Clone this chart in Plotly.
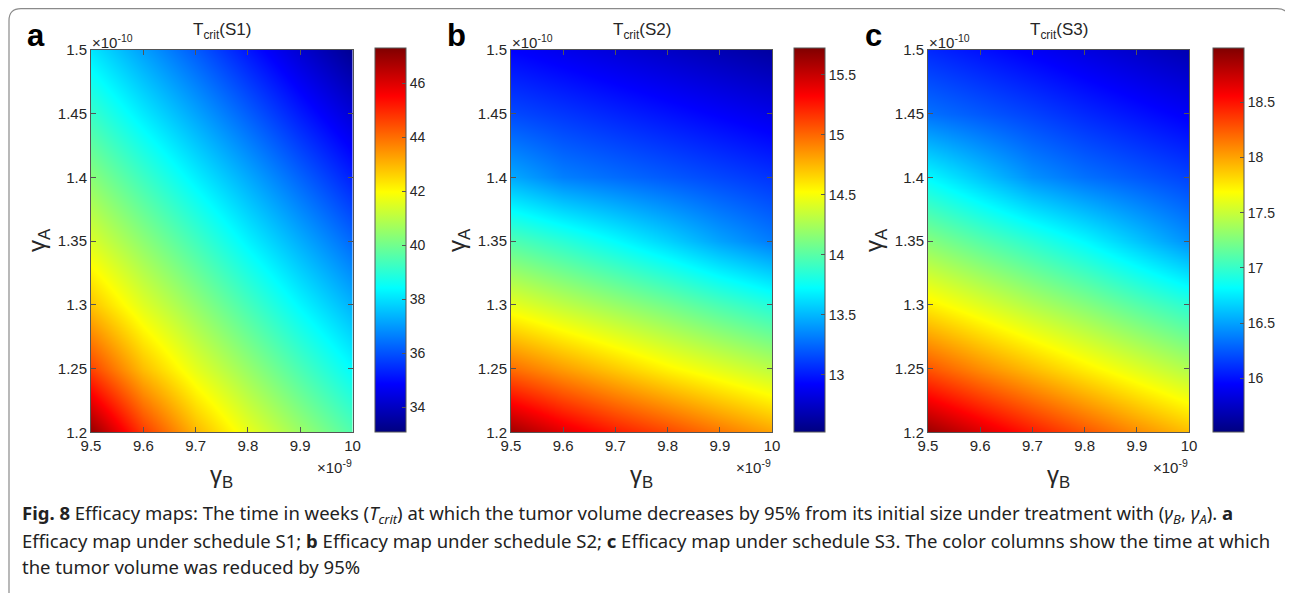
import plotly.graph_objects as go

W, H = 1293, 593
OFF = 8  # the page body margin shifts the figure by 8 px

# ---------------- data ----------------
gamma_B = [9.5, 9.6, 9.7, 9.8, 9.9, 10.0]          # x 10^-9
gamma_A = [1.2, 1.25, 1.3, 1.35, 1.4, 1.45, 1.5]   # x 10^-10

x_tick_labels = ["9.5", "9.6", "9.7", "9.8", "9.9", "10"]
y_tick_labels = ["1.2", "1.25", "1.3", "1.35", "1.4", "1.45", "1.5"]

# T_crit (weeks), rows follow gamma_A, columns follow gamma_B
tcrit_S1 = [
    [47.00, 44.73, 42.97, 41.66, 40.57, 39.51],
    [44.60, 42.88, 41.59, 40.51, 39.44, 38.38],
    [42.79, 41.52, 40.44, 39.37, 38.32, 37.33],
    [41.45, 40.37, 39.31, 38.25, 37.27, 36.29],
    [40.30, 39.24, 38.19, 37.21, 36.23, 35.26],
    [39.17, 38.13, 37.14, 36.17, 35.20, 34.27],
    [38.07, 37.08, 36.11, 35.14, 34.21, 33.30],
]
tcrit_S2 = [
    [15.62, 15.41, 15.24, 15.10, 14.95, 14.81],
    [14.98, 14.83, 14.69, 14.55, 14.43, 14.31],
    [14.45, 14.32, 14.20, 14.08, 13.95, 13.83],
    [13.97, 13.85, 13.72, 13.58, 13.43, 13.31],
    [13.45, 13.32, 13.26, 13.20, 13.14, 13.08],
    [13.15, 13.09, 13.03, 12.97, 12.91, 12.85],
    [12.92, 12.86, 12.80, 12.74, 12.68, 12.62],
]
tcrit_S3 = [
    [18.90, 18.68, 18.47, 18.27, 18.08, 17.91],
    [18.27, 18.08, 17.91, 17.74, 17.58, 17.42],
    [17.74, 17.58, 17.42, 17.27, 17.11, 16.96],
    [17.27, 17.11, 16.96, 16.80, 16.62, 16.44],
    [16.80, 16.62, 16.44, 16.33, 16.25, 16.17],
    [16.33, 16.25, 16.17, 16.08, 16.00, 15.92],
    [16.08, 16.00, 15.92, 15.84, 15.76, 15.68],
]

cbar_ranges = [(33.07, 47.3), (12.52, 15.72), (15.51, 18.99)]
cbar_ticks = [
    [34, 36, 38, 40, 42, 44, 46],
    [13, 13.5, 14, 14.5, 15, 15.5],
    [16, 16.5, 17, 17.5, 18, 18.5],
]
panel_titles = ["T<sub>crit</sub>(S1)", "T<sub>crit</sub>(S2)", "T<sub>crit</sub>(S3)"]
panel_letters = ["a", "b", "c"]

# ---------------- layout helpers (page pixel -> paper fraction) ----------------
def fx(px):
    return (px - OFF) / W

def fy(py):
    return 1 - (py - OFF) / H

jet = [
    [0.0, "rgb(0,0,128)"],
    [0.125, "rgb(0,0,255)"],
    [0.375, "rgb(0,255,255)"],
    [0.625, "rgb(255,255,0)"],
    [0.875, "rgb(255,0,0)"],
    [1.0, "rgb(128,0,0)"],
]

plot_x = [(91, 352.5), (511, 772), (928, 1189)]
plot_y = (50, 432.3)
cbar_x = [375, 794, 1213]

AX_COLOR = "#555555"
TXT = "#262626"
FONT = "Liberation Sans"

fig = go.Figure()
datasets = [tcrit_S1, tcrit_S2, tcrit_S3]

for i in range(3):
    sfx = "" if i == 0 else str(i + 1)
    zmin, zmax = cbar_ranges[i]
    fig.add_trace(go.Heatmap(
        x=gamma_B, y=gamma_A, z=datasets[i],
        xaxis="x" + sfx, yaxis="y" + sfx,
        colorscale=jet, zmin=zmin, zmax=zmax, zsmooth="best",
        colorbar=dict(
            x=fx(cbar_x[i]), xanchor="left", xpad=0, ypad=0,
            y=fy(plot_y[1]), yanchor="bottom",
            len=(plot_y[1] - 48) / H, lenmode="fraction",
            thickness=31, thicknessmode="pixels",
            outlinewidth=1, outlinecolor=AX_COLOR,
            ticks="inside", ticklen=4, tickcolor=AX_COLOR,
            tickvals=cbar_ticks[i],
            tickfont=dict(family=FONT, size=14, color=TXT),
        ),
        hoverinfo="skip",
    ))
    xa = dict(
        domain=[fx(plot_x[i][0]), fx(plot_x[i][1])],
        range=[9.5, 10.0], anchor="y" + sfx,
        tickvals=gamma_B, ticktext=x_tick_labels,
        ticks="inside", ticklen=5, tickcolor=AX_COLOR,
        showline=True, linecolor=AX_COLOR, linewidth=1, mirror="ticks",
        showgrid=False, zeroline=False,
        tickfont=dict(family=FONT, size=15, color=TXT),
    )
    ya = dict(
        domain=[fy(plot_y[1]), fy(plot_y[0])],
        range=[1.2, 1.5], anchor="x" + sfx,
        tickvals=gamma_A, ticktext=y_tick_labels,
        ticks="inside", ticklen=5, tickcolor=AX_COLOR,
        showline=True, linecolor=AX_COLOR, linewidth=1, mirror="ticks",
        showgrid=False, zeroline=False,
        tickfont=dict(family=FONT, size=15, color=TXT),
    )
    fig.layout["xaxis" + sfx] = xa
    fig.layout["yaxis" + sfx] = ya

annotations = []

def ann(px, py, text, size, color=TXT, xanchor="center", family=FONT, angle=0):
    annotations.append(dict(
        x=fx(px), y=fy(py), xref="paper", yref="paper", text=text, showarrow=False,
        xanchor=xanchor, yanchor="middle", align="left", textangle=angle,
        font=dict(family=family, size=size, color=color)))

for i in range(3):
    x0, x1 = plot_x[i]
    cx = (x0 + x1) / 2
    ann(cx, 31, panel_titles[i], 17)
    ann(x0 - 55, 36, "<b>" + panel_letters[i] + "</b>", 31, color="black")
    ann(x0 - 1, 41, "\u00d710<sup>-10</sup>", 15, xanchor="left")
    ann(x1 + 1, 466, "\u00d710<sup>-9</sup>", 15, xanchor="right")
    ann(cx, 476, "\u03b3<sub>B</sub>", 24)
    ann(x0 - 53, 240, "\u03b3<sub>A</sub>", 24, angle=-90)

caption_lines = [
    "<b>Fig. 8</b> Efficacy maps: The time in weeks (<i>T<sub>crit</sub></i>) at which the tumor volume "
    "decreases by 95% from its initial size under treatment with (<i>\u03b3<sub>B</sub></i>, "
    "<i>\u03b3<sub>A</sub></i>). <b>a</b>",
    "Efficacy map under schedule S1; <b>b</b> Efficacy map under schedule S2; <b>c</b> Efficacy map "
    "under schedule S3. The color columns show the time at which",
    "the tumor volume was reduced by 95%",
]
for k, line in enumerate(caption_lines):
    ann(20, 514 + 26 * k, line, 18.5, color="#222222", xanchor="left", family="Noto Sans")

# rounded border (top-left corner as close to the page edge as the figure allows)
r = 12
L, T, R, B = 9, 8.6, 1289, 600
path = (f"M {fx(L)},{fy(B)} L {fx(L)},{fy(T + r)} Q {fx(L)},{fy(T)} {fx(L + r)},{fy(T)} "
        f"L {fx(R - r)},{fy(T)} Q {fx(R)},{fy(T)} {fx(R)},{fy(T + r)} L {fx(R)},{fy(B)}")

fig.update_layout(
    width=W, height=H,
    margin=dict(l=0, r=0, t=0, b=0, autoexpand=False),
    paper_bgcolor="white", plot_bgcolor="white",
    font=dict(family=FONT, color=TXT),
    annotations=annotations,
    shapes=[dict(type="path", path=path, xref="paper", yref="paper",
                 line=dict(color="#8a8a8a", width=1.2))],
    showlegend=False,
)

fig.write_html("out.html")
